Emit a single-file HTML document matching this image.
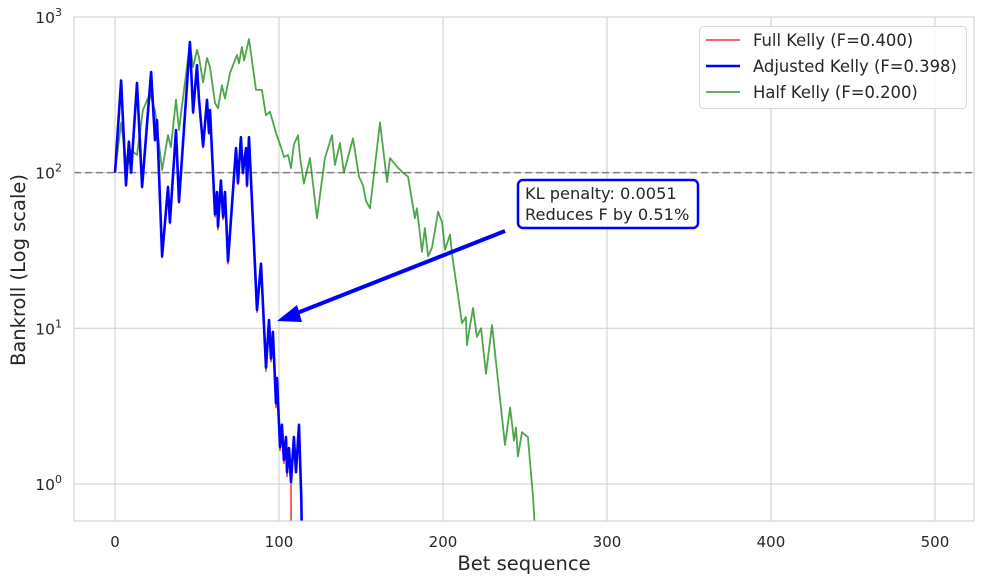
<!DOCTYPE html>
<html><head><meta charset="utf-8"><style>
html,body{margin:0;padding:0;background:#fff;}
svg{display:block;font-family:"DejaVu Sans","Liberation Sans",sans-serif;}
</style></head><body>
<svg id="chart" width="984" height="583" viewBox="0 0 984 583">
<rect width="984" height="583" fill="#fff"/>
<g id="grid"></g>
<g id="series"></g>
<rect x="74" y="17" width="900" height="504" fill="none" stroke="#cccccc" stroke-width="1"/>
<g id="ticks"></g>
<text x="524" y="570" font-size="19.5" fill="#262626" text-anchor="middle">Bet sequence</text>
<text transform="translate(25,270) rotate(-90)" font-size="19.5" fill="#262626" text-anchor="middle">Bankroll (Log scale)</text>
<g>
<line x1="505" y1="231" x2="292" y2="315" stroke="#0000ff" stroke-width="4"/>
<polygon points="277,321 297,305 302,322" fill="#0000ff"/>
<rect x="518" y="180" width="180" height="48" rx="5" fill="#fff" stroke="#0000ff" stroke-width="2.5"/>
<text x="525" y="199" font-size="16.2" fill="#262626">KL penalty: 0.0051</text>
<text x="525" y="220" font-size="16.2" fill="#262626">Reduces F by 0.51%</text>
</g>
<g>
<rect x="699.5" y="26.5" width="267" height="82" rx="4" fill="#fff" fill-opacity="0.85" stroke="#d6d6d6"/>
<line x1="706" y1="40" x2="740" y2="40" stroke="#ff0000" stroke-opacity="0.7" stroke-width="1.8"/>
<text x="753" y="46" font-size="16.4" fill="#262626">Full Kelly (F=0.400)</text>
<line x1="706" y1="66" x2="740" y2="66" stroke="#0000ff" stroke-width="2.6"/>
<text x="753" y="72" font-size="16.4" fill="#262626">Adjusted Kelly (F=0.398)</text>
<line x1="706" y1="92" x2="740" y2="92" stroke="#008000" stroke-opacity="0.7" stroke-width="1.8"/>
<text x="753" y="98" font-size="16.4" fill="#262626">Half Kelly (F=0.200)</text>
</g>
</svg>
<script>
const xTicks=[0,100,200,300,400,500];
const yTickExps=[0,1,2,3];
const halfX=[0,3.7,7.3,9.8,13.4,17,21.3,24.4,28.7,32.3,34.1,37.2,39,45.7,47.6,50,51.2,53.7,56.1,57.9,61,62.8,65.2,67.1,70.1,74.4,75.6,77.4,78.7,81.7,86,89.6,92,94.5,98.2,101.8,103,105.5,107.3,109,111.6,112.8,115.2,118.9,123.2,128,132.3,134.1,137.2,139.6,145.1,148.8,151.2,153,155.5,161.6,165.9,167.7,172,175.6,178.7,181.1,182.9,184.1,187.2,189,190.9,193.3,197,199.4,201.2,204.3,205.5,211.6,214,214.6,218.3,220.7,223.2,226.2,229.9,237.8,240.9,243.3,244.5,245.7,248.2,251.8,254.9,256.1];
const halfY=[100,209,107,140,130,252,324,252,104,174,146,294,188,680,477,615,551,380,545,477,281,259,364,300,436,571,504,643,527,721,340,340,234,246,180,140,126,130,107,151,174,126,85,124,51,124,174,112,155,100,166,94,83,66,59,210,87,124,109,100,94,66,51,59,31,44,29,33,56,48,32,40,30,10.8,11.8,7.8,13.5,8.8,10,5.1,10.5,1.78,3.1,1.9,2.3,1.5,2.15,2.0,0.83,0.5];
const adjX=[0,3.7,6.7,8.5,9.8,13.4,16.5,22,24.4,25.6,28.7,32.3,33.5,37.2,39,45.7,47.6,50,51.2,53.7,56.1,57.3,57.9,61,62.2,62.8,64.6,65.9,67.1,68.9,73.8,75,76.8,78,79.9,80.5,81.7,86.6,89,92.1,93.9,95.1,96.3,98.2,98.8,100.6,101.8,103,104.3,104.9,106.1,107.3,109.1,110.4,112.2,113.6,114];
const adjY=[100,391,83,158,100,377,81,443,162,218,29,81,48,188,65,690,245,490,294,148,294,180,252,54,75,45,89,52,75,27,144,86,169,100,144,83,169,13.1,26,5.6,11.3,6.4,9.5,3.3,4.8,1.73,2.4,1.43,2.0,1.19,1.7,1.03,2.0,1.19,2.4,0.8,0.4];
const fullX=[0,3.7,6.7,8.5,9.8,13.4,16.5,22,24.4,25.6,28.7,32.3,33.5,37.2,39,45.7,47.6,50,51.2,53.7,56.1,57.3,57.9,61,62.2,62.8,64.6,65.9,67.1,68.9,73.8,75,76.8,78,79.9,80.5,81.7,86.6,89,92.1,93.9,95.1,96.3,98.2,98.8,100.6,101.8,103,104.3,104.9,106.1,107.3,107.5];
const fullY=[100,391,82,158,100,377,80,443,160,218,28.5,80,47,188,64,690,240,490,290,145,290,178,250,52,74,43,88,50,74,26,142,84,167,98,142,81,167,12.7,25.5,5.3,11,6.1,9.2,3.1,4.6,1.65,2.3,1.36,1.9,1.12,1.6,0.97,0.3];

const X0=74,X1=974,Y0=17,Y1=521;
const xmin=-25,xmax=523.8;
const lmin=-0.238,lmax=3.0;
function sx(v){return X0+(v-xmin)/(xmax-xmin)*(X1-X0);}
function sy(v){const l=Math.log10(Math.max(v,1e-3));return Y1-(l-lmin)/(lmax-lmin)*(Y1-Y0);}
const NS="http://www.w3.org/2000/svg";
function mk(tag,attrs,parent){const e=document.createElementNS(NS,tag);for(const k in attrs)e.setAttribute(k,attrs[k]);parent.appendChild(e);return e;}
const grid=document.getElementById('grid'),ticks=document.getElementById('ticks'),ser=document.getElementById('series');
xTicks.forEach(t=>{
  const x=sx(t);
  const gl=mk('line',{x1:x,x2:x,y1:Y0,y2:Y1,stroke:'#cccccc','stroke-width':1},grid);
  
  
  const tx=mk('text',{x:x,y:547,'font-size':15,fill:'#262626','text-anchor':'middle'},ticks);
  tx.textContent=String(t);
  
  
});
yTickExps.forEach(e=>{
  const y=sy(Math.pow(10,e));
  const gl=mk('line',{x1:X0,x2:X1,y1:y,y2:y,stroke:'#cccccc','stroke-width':1},grid);
  
  
  const tx=mk('text',{x:62,y:y+6,'font-size':15.5,fill:'#262626','text-anchor':'end'},ticks);
  
  
  const a=document.createElementNS(NS,'tspan');a.textContent='10';tx.appendChild(a);
  const b=document.createElementNS(NS,'tspan');b.setAttribute('dy','-7');b.setAttribute('font-size','11');b.textContent=String(e);tx.appendChild(b);
});
const ref=mk('line',{x1:X0,x2:X1,y1:sy(100),y2:sy(100),stroke:'#808080','stroke-width':1.5,'stroke-dasharray':'7,4'},grid);


function path(xs,ys){return xs.map((v,i)=>(i?'L':'M')+sx(v).toFixed(1)+','+sy(ys[i]).toFixed(1)).join('');}
const clip=mk('clipPath',{id:'pc'},ser);mk('rect',{x:X0,y:Y0,width:X1-X0,height:Y1-Y0},clip);
const gH=mk('path',{d:path(halfX,halfY),fill:'none',stroke:'#008000','stroke-opacity':0.7,'stroke-width':1.8,'clip-path':'url(#pc)','stroke-linejoin':'round'},ser);


const gF=mk('path',{d:path(fullX,fullY),fill:'none',stroke:'#ff0000','stroke-opacity':0.7,'stroke-width':1.8,'clip-path':'url(#pc)','stroke-linejoin':'round'},ser);


const gA=mk('path',{d:path(adjX,adjY),fill:'none',stroke:'#0000ff','stroke-width':2.6,'clip-path':'url(#pc)','stroke-linejoin':'round'},ser);


</script>
</body></html>
